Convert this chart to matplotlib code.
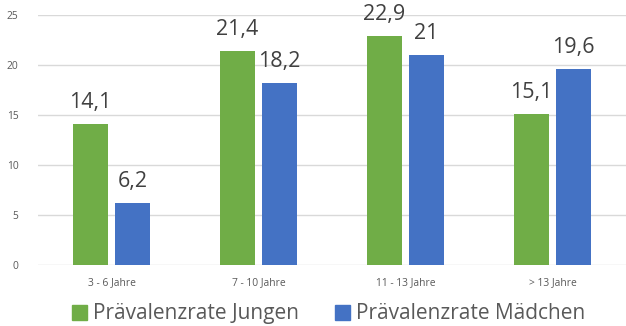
import numpy as np
import matplotlib.pyplot as plt
from matplotlib.patches import Patch

plt.rcParams['font.family'] = ['Open Sans', 'DejaVu Sans']

groups = ['3 - 6 Jahre', '7 - 10 Jahre', '11 - 13 Jahre', '> 13 Jahre']
jungen = [14.1, 21.4, 22.9, 15.1]
maedchen = [6.2, 18.2, 21.0, 19.6]
names = ['Prävalenzrate Jungen', 'Prävalenzrate Mädchen']

green = '#70AD47'
blue = '#4472C4'

fig = plt.figure(figsize=(6.26, 3.26), dpi=100)
ax = fig.add_axes([38 / 626, 61 / 326, 588 / 626, 250 / 326])

x = np.arange(len(groups))
w = 0.232
off = 0.143
b1 = ax.bar(x - off, jungen, w, color=green, zorder=3)
b2 = ax.bar(x + off, maedchen, w, color=blue, zorder=3)

def fmt(v):
    s = ('%.1f' % v).replace('.', ',')
    return s[:-2] if s.endswith(',0') else s

for bars, vals in ((b1, jungen), (b2, maedchen)):
    for r, v in zip(bars, vals):
        ax.annotate(fmt(v), (r.get_x() + r.get_width() / 2, v),
                    xytext=(0, 8), textcoords='offset points',
                    ha='center', va='bottom', fontsize=15.5, color='#404040')

ax.set_xlim(-0.5, len(groups) - 0.5)
ax.set_ylim(0, 25)
ax.set_yticks(range(0, 26, 5))
ax.set_xticks(x)
ax.set_xticklabels(groups)
ax.tick_params(length=0, labelsize=7.4, labelcolor='#595959')
ax.tick_params(axis='x', pad=9)
ax.tick_params(axis='y', pad=14)
ax.grid(axis='y', color='#D9D9D9', linewidth=1, zorder=0)
for s in ax.spines.values():
    s.set_visible(False)

handles = [Patch(color=green), Patch(color=blue)]
fig.legend(handles, names, loc='center', bbox_to_anchor=(0.525, 0.037),
           ncol=2, frameon=False, fontsize=15, labelcolor='#595959',
           handlelength=0.72, handleheight=0.72, handletextpad=0.28,
           columnspacing=1.7)

fig.savefig('out.png', dpi=100)
